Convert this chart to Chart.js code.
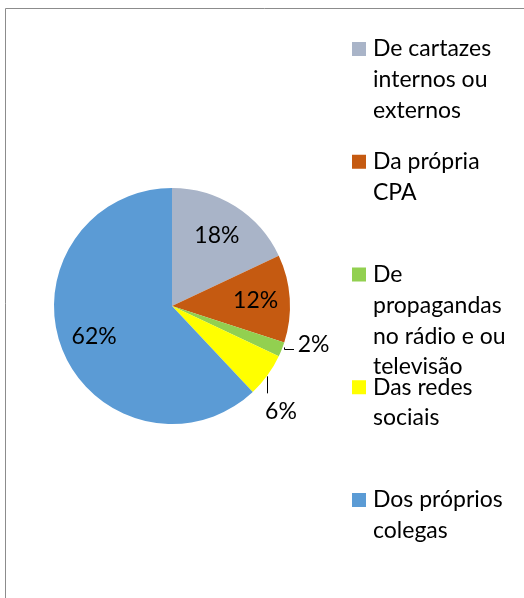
<!DOCTYPE html>
<html>
<head>
<meta charset="utf-8">
<script src="https://cdn.jsdelivr.net/npm/chart.js@4"></script>
<style>
  html, body { margin: 0; padding: 0; background: #ffffff; }
  #wrap { width: 524px; height: 598px; position: relative; }
  canvas { display: block; }
</style>
</head>
<body>
<div id="wrap"><canvas id="chart" width="524" height="598"></canvas></div>
<script>
// Origem do conhecimento sobre a CPA
const categories = [
  'De cartazes internos ou externos',
  'Da própria CPA',
  'De propagandas no rádio e ou televisão',
  'Das redes sociais',
  'Dos próprios colegas'
];
const shares = [18, 12, 2, 6, 62];
const sliceColors = ['#A9B4C8', '#C55A11', '#92D050', '#FFFF00', '#5B9BD5'];

const FONT = '"Lato", "Carlito", "Liberation Sans", sans-serif';
const FONT_SIZE = 23;

function wrapText(ctx, text, maxWidth) {
  const words = text.split(' ');
  const lines = [];
  let line = '';
  for (const w of words) {
    const test = line ? line + ' ' + w : w;
    if (line && ctx.measureText(test).width > maxWidth) {
      lines.push(line);
      line = w;
    } else {
      line = test;
    }
  }
  if (line) lines.push(line);
  return lines;
}

const framePlugin = {
  id: 'frame',
  beforeDraw(chart) {
    const ctx = chart.ctx;
    ctx.save();
    ctx.strokeStyle = '#8c8c8c';
    ctx.lineWidth = 1;
    ctx.beginPath();
    ctx.moveTo(5.5, 598);
    ctx.lineTo(5.5, 8.5);
    ctx.lineTo(524, 8.5);
    ctx.stroke();
    ctx.restore();
  }
};

const legendPlugin = {
  id: 'sideLegend',
  afterDraw(chart) {
    const ctx = chart.ctx;
    const labels = chart.data.labels;
    const colors = chart.data.datasets[0].backgroundColor;
    ctx.save();
    ctx.font = FONT_SIZE + 'px ' + FONT;
    ctx.textBaseline = 'middle';
    ctx.textAlign = 'left';
    const firstY = 49, slot = 112.75, lineH = 30.8;
    labels.forEach((lab, i) => {
      const y0 = firstY + i * slot;
      ctx.fillStyle = colors[i];
      ctx.fillRect(352, y0 - 7, 14, 14);
      ctx.fillStyle = '#000000';
      wrapText(ctx, lab, 145).forEach((ln, k) => {
        ctx.fillText(ln, 373, y0 + k * lineH);
      });
    });
    ctx.restore();
  }
};

const valueLabelPlugin = {
  id: 'valueLabels',
  afterDatasetsDraw(chart) {
    const ctx = chart.ctx;
    const meta = chart.getDatasetMeta(0);
    const values = chart.data.datasets[0].data;
    ctx.save();
    ctx.font = FONT_SIZE + 'px ' + FONT;
    ctx.fillStyle = '#000000';
    ctx.strokeStyle = '#000000';
    ctx.lineWidth = 1;
    meta.data.forEach((arc, i) => {
      const p = arc.getProps(['x', 'y', 'startAngle', 'endAngle', 'outerRadius'], true);
      const mid = (p.startAngle + p.endAngle) / 2;
      const text = values[i] + '%';
      if (values[i] >= 10) {
        const r = p.outerRadius * 0.71;
        ctx.textAlign = 'center';
        ctx.textBaseline = 'middle';
        ctx.fillText(text, p.x + Math.cos(mid) * r, p.y + Math.sin(mid) * r);
      } else {
        const ex = p.x + Math.cos(mid) * p.outerRadius;
        const ey = p.y + Math.sin(mid) * p.outerRadius;
        ctx.beginPath();
        if (Math.cos(mid) > 0.9) {
          // leader with a small elbow, text to the right
          ctx.moveTo(Math.round(ex) + 2.5, ey - 2);
          ctx.lineTo(Math.round(ex) + 2.5, Math.round(ey) + 0.5);
          ctx.lineTo(Math.round(ex) + 12, Math.round(ey) + 0.5);
          ctx.stroke();
          ctx.textAlign = 'left';
          ctx.textBaseline = 'middle';
          ctx.fillText(text, ex + 16, ey - 5);
        } else {
          // vertical leader, text below
          ctx.moveTo(Math.round(ex) + 0.5, ey + 1);
          ctx.lineTo(Math.round(ex) + 0.5, ey + 18);
          ctx.stroke();
          ctx.textAlign = 'center';
          ctx.textBaseline = 'middle';
          ctx.fillText(text, ex + 13.5, ey + 36);
        }
      }
    });
    ctx.restore();
  }
};

function build() {
  new Chart(document.getElementById('chart'), {
    type: 'pie',
    data: {
      labels: categories,
      datasets: [{
        data: shares,
        backgroundColor: sliceColors,
        borderWidth: 0
      }]
    },
    options: {
      responsive: false,
      animation: false,
      devicePixelRatio: 1,
      layout: { padding: { left: 54, right: 234, top: 188, bottom: 174 } },
      plugins: {
        legend: { display: false },
        tooltip: { enabled: false }
      }
    },
    plugins: [framePlugin, valueLabelPlugin, legendPlugin]
  });
}

if (document.fonts && document.fonts.load) {
  document.fonts.load(FONT_SIZE + 'px Lato').then(build, build);
} else {
  build();
}
</script>
</body>
</html>
